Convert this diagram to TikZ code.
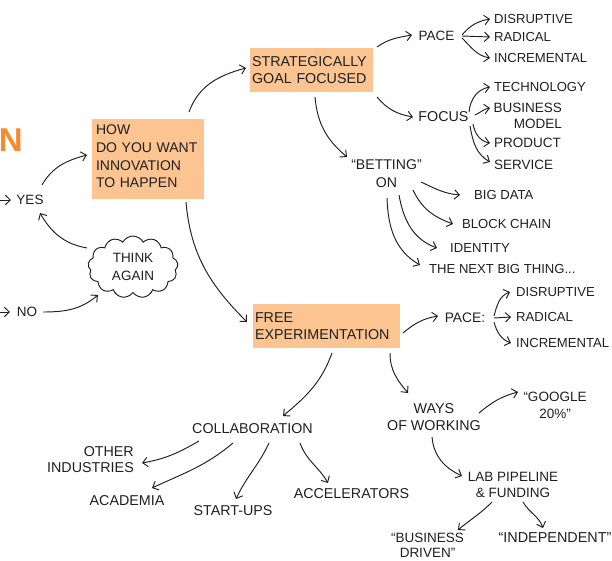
\documentclass[tikz,border=0pt]{standalone}
\usepackage{fontspec}
\setmainfont{Liberation Sans}
\usetikzlibrary{arrows.meta,calc,shapes.symbols}
\definecolor{ink}{HTML}{1F1F1F}
\definecolor{boxfill}{HTML}{FCC491}
\definecolor{accent}{HTML}{F58A2E}
\tikzset{
  lbl/.style={inner sep=0pt, text=ink, font=\fontsize{13.5}{17.5}\selectfont},
  lblL/.style={inner sep=0pt, text=ink, font=\fontsize{14.3}{17.5}\selectfont},
  lblS/.style={inner sep=0pt, text=ink, font=\fontsize{13.1}{17}\selectfont},
  goalbox/.style={lblL, fill=boxfill, align=left, anchor=center},
  conn/.style={draw=ink, line width=0.95pt, -{Straight Barb[length=5pt,width=9.5pt,line width=0.95pt]}},
}
\begin{document}
\begin{tikzpicture}[x=1pt,y=-1pt]
\useasboundingbox (0,0) rectangle (612,561);
% left part
\node[inner sep=0pt, anchor=east, text=accent, font=\bfseries\fontsize{33}{33}\selectfont] (nn) at (23,140) {N};
\node[lbl] (yes) at (30,200) {YES};
\node[lbl] (no) at (27,312) {NO};
\coordinate (inyes) at (-1,200);
\coordinate (inno) at (-1,312);
\node[lbl, draw=ink, line width=0.95pt, cloud, cloud puffs=13, cloud puff arc=125, aspect=1.45, minimum width=90, minimum height=62, align=center] (think) at (133,267) {THINK\\AGAIN};
\node[goalbox, text width=104, inner xsep=4, minimum width=112, minimum height=80, font=\fontsize{14}{17.7}\selectfont] (how) at (148,159) {HOW\\DO YOU WANT\\INNOVATION\\TO HAPPEN\rule[-5pt]{0pt}{5pt}};
% strategic branch
\node[goalbox, text width=119, inner xsep=2, minimum width=123, minimum height=44] (strat) at (311.5,70) {STRATEGICALLY\\GOAL FOCUSED};
\node[lbl] (pacea) at (436.5,36) {PACE};
\node[lblS, anchor=west] (disa) at (494,19) {DISRUPTIVE};
\node[lblS, anchor=west] (rada) at (494,37) {RADICAL};
\node[lblS, anchor=west] (inca) at (494,58) {INCREMENTAL};
\node[lblL] (focus) at (443.5,117) {FOCUS};
\node[lblS, anchor=west] (tech) at (494,87) {TECHNOLOGY};
\node[lbl, anchor=east, align=right, font=\fontsize{13.5}{16}\selectfont] (bm) at (562,116) {BUSINESS\\MODEL};
\node[lbl, anchor=west] (prod) at (494,143) {PRODUCT};
\node[lbl, anchor=west] (serv) at (494,165) {SERVICE};
\node[lblL, align=center, font=\fontsize{14.1}{18}\selectfont] (bet) at (386.5,174) {“BETTING”\\ON};
\node[lblS, anchor=west] (bigd) at (474,195) {BIG DATA};
\node[lblS, anchor=west] (block) at (462,224) {BLOCK CHAIN};
\node[lblS, anchor=west] (ident) at (450,248) {IDENTITY};
\node[lblS, anchor=west] (next) at (429,269) {THE NEXT BIG THING...};
% free branch
\node[goalbox, text width=143, inner xsep=2, minimum width=147, minimum height=44] (free) at (326.5,326) {FREE\\EXPERIMENTATION};
\node[lbl, font=\fontsize{13.8}{17}\selectfont] (paceb) at (465,318) {PACE:};
\node[lblS, anchor=west] (disb) at (516,292) {DISRUPTIVE};
\node[lblS, anchor=west] (radb) at (516,317) {RADICAL};
\node[lblS, anchor=west] (incb) at (516,343) {INCREMENTAL};
\node[lblL, align=center] (ways) at (434,417) {WAYS\\OF WORKING};
\node[lbl, align=center, font=\fontsize{13.5}{17}\selectfont] (google) at (555,405) {“GOOGLE\\20\%”};
\node[lbl, align=center, font=\fontsize{13.5}{16}\selectfont] (lab) at (513,484.5) {LAB PIPELINE\\\& FUNDING};
\node[lbl, align=center, font=\fontsize{13.5}{15.5}\selectfont] (bdrive) at (427.5,545.5) {“BUSINESS\\DRIVEN”};
\node[lblL, font=\fontsize{14.4}{17}\selectfont] (indep) at (555,538) {“INDEPENDENT”};
\node[lblL] (collab) at (252.5,429) {COLLABORATION};
\node[lblL, anchor=east, align=right, font=\fontsize{14.3}{16}\selectfont] (other) at (134,460) {OTHER\\INDUSTRIES};
\node[lblL] (acad) at (127,501) {ACADEMIA};
\node[lblL] (startups) at (233,511) {START-UPS};
\node[lblL] (accel) at (351.5,494) {ACCELERATORS};
% connectors
\draw[conn] (inyes) -- ($(yes)+(-19,0)$);
\draw[conn] (inno) -- ($(no)+(-17,0)$);
\draw[conn] ($(yes)+(12,-15)$) to[out=60,in=195] ($(how)+(-61,-4)$);
\draw[conn] ($(think)+(-46,-19)$) to[out=170,in=-60] ($(yes)+(10,13)$);
\draw[conn] ($(no)+(16,0)$) to[out=0,in=220] ($(think)+(-35,28)$);
\draw[conn] ($(how)+(41,-47)$) to[out=70,in=195] ($(strat)+(-65.5,-2)$);
\draw[conn] ($(how)+(38,43)$) to[out=-85,in=135] ($(free)+(-79.5,-4)$);
\draw[conn] ($(strat)+(65.5,-23)$) to[out=35,in=190] ($(pacea)+(-24.5,-1)$);
\draw[conn] ($(strat)+(65.5,27)$) to[out=-50,in=170] ($(focus)+(-30.5,0)$);
\draw[conn] ($(strat)+(3.5,27)$) to[out=-85,in=140] ($(bet)+(-39.5,-17)$);
\draw[conn] ($(pacea)+(25.5,-1)$) to[out=50,in=190] ($(disa.west)+(-4,0)$);
\draw[conn] ($(pacea)+(25.5,0)$) -- ($(rada.west)+(-4,0)$);
\draw[conn] ($(pacea)+(25.5,2)$) to[out=-45,in=170] ($(inca.west)+(-4,0)$);
\draw[conn] ($(focus)+(25.5,-5)$) to[out=85,in=190] ($(tech.west)+(-4,0)$);
\draw[conn] ($(focus)+(31.5,-2)$) to[out=25,in=190] ($(bm.east)+(-72,-8)$);
\draw[conn] ($(focus)+(29.5,7)$) to[out=-80,in=170] ($(prod.west)+(-4,0)$);
\draw[conn] ($(focus)+(26.5,9)$) to[out=-80,in=150] ($(serv.west)+(-4,-3)$);
\draw[conn] ($(bet)+(34.5,8)$) to[out=-25,in=175] ($(bigd.west)+(-14,0)$);
\draw[conn] ($(bet)+(26.5,16)$) to[out=-65,in=160] ($(block.west)+(-9,0)$);
\draw[conn] ($(bet)+(12.5,21)$) to[out=-80,in=160] ($(ident.west)+(-13,0)$);
\draw[conn] ($(bet)+(0.5,24)$) to[out=-88,in=150] ($(next.west)+(-9,-4)$);
\draw[conn] ($(free)+(76.5,7)$) to[out=40,in=190] ($(paceb)+(-27,-2)$);
\draw[conn] ($(paceb)+(29,-2)$) to[out=75,in=200] ($(disb.west)+(-6,0)$);
\draw[conn] ($(paceb)+(29,0)$) -- ($(radb.west)+(-5,0)$);
\draw[conn] ($(paceb)+(29,4)$) to[out=-75,in=160] ($(incb.west)+(-5,0)$);
\draw[conn] ($(free)+(63.5,27)$) to[out=-90,in=130] ($(ways)+(-26,-24)$);
\draw[conn] ($(free)+(5.5,27)$) to[out=-110,in=40] ($(collab)+(30.5,-13)$);
\draw[conn] ($(ways)+(45,-4)$) to[out=40,in=195] ($(google)+(-37,-13)$);
\draw[conn] ($(ways)+(-2,20)$) to[out=-85,in=155] ($(lab)+(-51,-8.5)$);
\draw[conn] ($(lab)+(-21,17.5)$) to[out=-135,in=40] ($(bdrive)+(30.5,-15.5)$);
\draw[conn] ($(lab)+(10,17.5)$) to[out=-60,in=110] ($(indep)+(-12,-10)$);
\draw[conn] ($(collab)+(-53.5,12)$) to[out=-150,in=10] ($(other.east)+(8,3)$);
\draw[conn] ($(collab)+(-19.5,14)$) to[out=-140,in=25] ($(acad)+(25,-13)$);
\draw[conn] ($(collab)+(16.5,14)$) to[out=-115,in=65] ($(startups)+(3,-12)$);
\draw[conn] ($(collab)+(47.5,14)$) to[out=-70,in=120] ($(accel)+(-23.5,-11)$);
\end{tikzpicture}
\end{document}
